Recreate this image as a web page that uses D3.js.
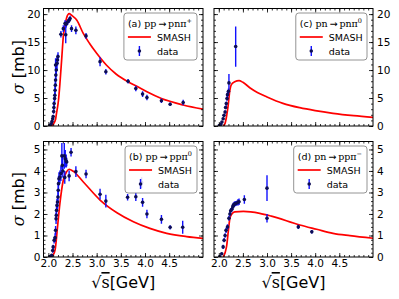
<!DOCTYPE html>
<html>
<head>
<meta charset="utf-8">
<script src="https://cdn.jsdelivr.net/npm/d3@7"></script>
<style>
body { margin: 0; background: #fff; }
svg text { font-family: "DejaVu Sans", sans-serif; fill: #000; }
</style>
</head>
<body>
<svg id="chart" width="399" height="299"></svg>
<script>
// shared axis settings
var xDomain = [1.9, 5.2];
var xTicks = [2.0, 2.5, 3.0, 3.5, 4.0, 4.5];
var yTicksTop = [0, 5, 10, 15, 20];
var yTicksBottom = [0, 1, 2, 3, 4, 5];

// (a) pp -> pn pi+
var aDataX = [2.035, 2.06, 2.076, 2.09, 2.10, 2.11, 2.115, 2.12, 2.13, 2.135, 2.14, 2.145, 2.15, 2.155, 2.165, 2.15, 2.18, 2.19, 2.20,
              2.26, 2.31, 2.345, 2.36, 2.37, 2.40, 2.43, 2.45, 2.48, 2.57, 2.78, 3.07, 3.19, 3.65, 3.81, 3.95, 4.04, 4.34, 4.52, 4.79];
var aDataY = [0.1, 0.4, 0.8, 1.3, 1.7, 2.6, 3.3, 4.0, 4.9, 5.5, 6.4, 7.3, 8.2, 9.1, 10.0, 10.9, 11.2, 11.8, 12.4,
              16.4, 17.4, 18.3, 16.3, 18.2, 18.6, 18.9, 19.2, 17.4, 17.1, 16.1, 11.5, 9.7, 8.0, 6.7, 5.7, 5.1, 4.5, 3.9, 4.2];
var aDataErr = [0.1, 0.15, 0.2, 0.3, 0.3, 0.4, 0.4, 0.5, 0.6, 0.7, 0.8, 0.8, 0.9, 1.0, 1.1, 1.2, 1.2, 1.0, 0.8,
                0.6, 0.6, 0.6, 1.5, 0.6, 0.5, 0.5, 0.5, 0.6, 0.7, 0.5, 0.8, 0.5, 0.4, 0.5, 0.5, 0.5, 0.4, 0.3, 0.5];
var aCurveX = [2.05, 2.1, 2.15, 2.17, 2.21, 2.24, 2.28, 2.31, 2.345, 2.38, 2.43, 2.48, 2.59, 2.72, 2.85, 3.0, 3.2, 3.4, 3.65, 3.83, 4.04, 4.34, 4.79, 5.2];
var aCurveY = [0, 0.3, 1.2, 2.3, 4.6, 7.6, 12.4, 16.0, 18.0, 19.4, 20.1, 19.8, 18.9, 16.6, 14.8, 13.0, 10.9, 9.3, 7.9, 7.1, 6.1, 4.9, 3.75, 3.0];

// (b) pp -> pp pi0
var bDataX = [2.035, 2.07, 2.09, 2.10, 2.12, 2.14, 2.15, 2.16, 2.165, 2.17, 2.18, 2.19, 2.20, 2.205, 2.21, 2.22, 2.24, 2.26,
              2.28, 2.29, 2.30, 2.33, 2.34, 2.35, 2.37, 2.38, 2.43, 2.47, 2.57, 2.78, 3.07, 3.19, 3.64, 3.81, 3.93, 3.95, 4.04, 4.34, 4.52, 4.78];
var bDataY = [0.02, 0.08, 0.3, 0.47, 0.78, 0.9, 1.24, 1.78, 1.94, 2.17, 2.4, 2.56, 2.79, 3.1, 3.41, 3.64, 3.72, 3.88,
              4.7, 4.26, 4.0, 4.7, 3.7, 4.57, 4.46, 4.42, 3.77, 4.87, 3.97, 3.86, 2.92, 2.6, 2.78, 2.8, 3.46, 2.54, 2.0, 1.75, 1.38, 1.38];
var bDataErr = [0.02, 0.05, 0.1, 0.1, 0.15, 0.2, 0.2, 0.25, 0.25, 0.3, 0.3, 0.3, 0.3, 0.3, 0.35, 0.3, 0.3, 0.35,
                0.6, 0.4, 0.3, 0.6, 0.3, 0.4, 0.3, 0.2, 0.25, 0.2, 0.25, 0.2, 0.25, 0.3, 0.15, 0.2, 0.25, 0.2, 0.2, 0.2, 0.1, 0.3];
var bCurveX = [2.04, 2.1, 2.14, 2.19, 2.24, 2.31, 2.38, 2.43, 2.52, 2.72, 3.07, 3.42, 3.76, 4.1, 4.45, 4.86, 5.2];
var bCurveY = [0, 0.1, 0.33, 1.4, 2.5, 3.58, 3.97, 4.08, 3.98, 3.5, 2.65, 2.06, 1.64, 1.33, 1.1, 0.95, 0.87];

// (c) pn -> pn pi0
var cDataX = [2.01, 2.04, 2.065, 2.09, 2.107, 2.13, 2.14, 2.155, 2.17, 2.18, 2.20, 2.21, 2.35];
var cDataY = [0.1, 0.3, 0.7, 1.3, 1.9, 2.5, 3.3, 4.0, 4.9, 5.6, 6.2, 7.7, 14.2];
var cDataErr = [0.05, 0.1, 0.15, 0.2, 0.25, 0.3, 0.3, 0.4, 0.4, 0.5, 0.5, 1.6, 3.6];
var cCurveX = [2.09, 2.13, 2.16, 2.19, 2.23, 2.26, 2.33, 2.42, 2.5, 2.65, 2.8, 3.0, 3.33, 3.68, 4.0, 4.37, 4.8, 5.2];
var cCurveY = [0, 0.5, 1.7, 3.4, 6.4, 7.4, 7.9, 8.1, 7.8, 6.8, 6.0, 5.2, 4.05, 3.27, 2.75, 2.27, 1.85, 1.55];

// (d) pn -> pp pi-
var dDataX = [2.02, 2.06, 2.09, 2.11, 2.13, 2.15, 2.18, 2.21, 2.23, 2.245, 2.27, 2.29, 2.30, 2.32, 2.34, 2.37, 2.40, 2.42, 2.53, 3.0, 3.0, 3.65, 3.93];
var dDataY = [0.02, 0.15, 0.47, 0.78, 1.0, 1.24, 1.4, 1.8, 2.0, 2.15, 2.22, 2.33, 2.4, 2.45, 2.48, 2.5, 2.55, 2.57, 2.67, 3.2, 1.8, 1.4, 1.17];
var dDataErr = [0.02, 0.05, 0.1, 0.1, 0.1, 0.12, 0.12, 0.12, 0.12, 0.12, 0.12, 0.12, 0.12, 0.12, 0.12, 0.12, 0.15, 0.15, 0.2, 0.6, 0.2, 0.1, 0.08];
var dCurveX = [2.09, 2.16, 2.20, 2.23, 2.27, 2.33, 2.51, 2.85, 3.09, 3.68, 4.03, 4.37, 4.72, 5.2];
var dCurveY = [0, 0.48, 1.26, 1.8, 2.0, 2.1, 2.12, 2.03, 1.9, 1.49, 1.29, 1.1, 0.99, 0.87];

var svg = d3.select("#chart");
var dataColor = "#0d0d55";
var errColor = "#1010ff";
var curveColor = "#ff0000";

var panels = [
  {key: "a", label: "(a) ", react: ["pp", "pn\u03c0", "+"], left: 43.5, top: 8.5, width: 159.5, height: 117.5,
   yDomain: [0, 21], yTicks: yTicksTop, yMinorStep: 1, xLabels: false, yRight: false,
   dx: aDataX, dy: aDataY, de: aDataErr, cx: aCurveX, cy: aCurveY},
  {key: "c", label: "(c) ", react: ["pn", "pn\u03c0", "0"], left: 214, top: 8.5, width: 159, height: 117.5,
   yDomain: [0, 21], yTicks: yTicksTop, yMinorStep: 1, xLabels: false, yRight: true,
   dx: cDataX, dy: cDataY, de: cDataErr, cx: cCurveX, cy: cCurveY},
  {key: "b", label: "(b) ", react: ["pp", "pp\u03c0", "0"], left: 43.5, top: 141.5, width: 159.5, height: 115.5,
   yDomain: [0, 5.37], yTicks: yTicksBottom, yMinorStep: 0.2, xLabels: true, yRight: false,
   dx: bDataX, dy: bDataY, de: bDataErr, cx: bCurveX, cy: bCurveY},
  {key: "d", label: "(d) ", react: ["pn", "pp\u03c0", "\u2212"], left: 214, top: 141.5, width: 159, height: 115.5,
   yDomain: [0, 5.37], yTicks: yTicksBottom, yMinorStep: 0.2, xLabels: true, yRight: true,
   dx: dDataX, dy: dDataY, de: dDataErr, cx: dCurveX, cy: dCurveY}
];

panels.forEach(drawPanel);

function drawPanel(p) {
  var g = svg.append("g").attr("transform", "translate(" + p.left + "," + p.top + ")");
  var w = p.width, h = p.height;
  var x = d3.scaleLinear().domain(xDomain).range([0, w]);
  var y = d3.scaleLinear().domain(p.yDomain).range([h, 0]);

  g.append("clipPath").attr("id", "clip-" + p.key)
    .append("rect").attr("width", w).attr("height", h);
  var plot = g.append("g").attr("clip-path", "url(#clip-" + p.key + ")");

  // SMASH curve
  var pts = p.cx.map(function(v, i) { return [v, p.cy[i]]; });
  var line = d3.line().x(function(d) { return x(d[0]); }).y(function(d) { return y(d[1]); })
    .curve(d3.curveMonotoneX);
  plot.append("path").datum(pts).attr("d", line)
    .attr("fill", "none").attr("stroke", curveColor).attr("stroke-width", 1.7);

  // data with error bars
  var data = p.dx.map(function(v, i) { return {x: v, y: p.dy[i], e: p.de[i]}; });
  plot.selectAll(".err").data(data).enter().append("line")
    .attr("x1", function(d) { return x(d.x); }).attr("x2", function(d) { return x(d.x); })
    .attr("y1", function(d) { return y(d.y - d.e); }).attr("y2", function(d) { return y(d.y + d.e); })
    .attr("stroke", errColor).attr("stroke-width", 1.4);
  plot.selectAll(".pt").data(data).enter().append("circle")
    .attr("cx", function(d) { return x(d.x); }).attr("cy", function(d) { return y(d.y); })
    .attr("r", 1.8).attr("fill", dataColor);

  // axes, ticks pointing inward
  var xMinor = d3.range(2.0, 5.2, 0.1);
  var yMinor = d3.range(p.yDomain[0], p.yDomain[1], p.yMinorStep);
  var fmtX = p.xLabels ? d3.format(".1f") : function() { return ""; };

  g.append("g").attr("transform", "translate(0," + h + ")")
    .call(d3.axisBottom(x).tickValues(xTicks).tickSize(-4).tickPadding(3).tickFormat(fmtX));
  g.append("g").attr("transform", "translate(0," + h + ")")
    .call(d3.axisBottom(x).tickValues(xMinor).tickSize(-2).tickFormat(""));
  g.append("g").call(d3.axisTop(x).tickValues(xTicks).tickSize(-4).tickFormat(""));
  g.append("g").call(d3.axisTop(x).tickValues(xMinor).tickSize(-2).tickFormat(""));

  var fmtY = d3.format("d");
  g.append("g")
    .call(d3.axisLeft(y).tickValues(p.yTicks).tickSize(-4).tickPadding(3)
      .tickFormat(p.yRight ? function() { return ""; } : fmtY));
  g.append("g").call(d3.axisLeft(y).tickValues(yMinor).tickSize(-2).tickFormat(""));
  g.append("g").attr("transform", "translate(" + w + ",0)")
    .call(d3.axisRight(y).tickValues(p.yTicks).tickSize(-4).tickPadding(4)
      .tickFormat(p.yRight ? fmtY : function() { return ""; }));
  g.append("g").attr("transform", "translate(" + w + ",0)")
    .call(d3.axisRight(y).tickValues(yMinor).tickSize(-2).tickFormat(""));

  g.selectAll(".domain").remove();
  g.selectAll(".tick line").attr("stroke", "#000").attr("stroke-width", 0.8);
  g.selectAll(".tick text").attr("font-size", 10.5).attr("font-family", "DejaVu Sans");

  g.append("rect").attr("width", w).attr("height", h)
    .attr("fill", "none").attr("stroke", "#000").attr("stroke-width", 1);

  // legend
  var lg = g.append("g");
  var box = lg.append("rect").attr("rx", 3).attr("ry", 3)
    .attr("fill", "#fff").attr("fill-opacity", 0.85).attr("stroke", "#888").attr("stroke-width", 0.9);
  var title = lg.append("text").attr("font-size", 9.5).attr("y", 0);
  title.append("tspan").text(p.label);
  title.append("tspan").attr("font-family", "DejaVu Serif").text(p.react[0] + "\u2009");
  title.append("tspan").attr("font-family", "DejaVu Sans").text("\u2192");
  title.append("tspan").attr("font-family", "DejaVu Serif").text("\u2009" + p.react[1]);
  title.append("tspan").attr("font-family", "DejaVu Serif").attr("font-size", 6.5)
    .attr("dy", -4).text(p.react[2]);
  var tw = title.node().getComputedTextLength();
  var bw = tw + 9, bh = 47;
  var bx = w - 6 - bw, by = 4.5;
  box.attr("x", bx).attr("y", by).attr("width", bw).attr("height", bh);
  title.attr("x", bx + 4).attr("y", by + 14);
  title.selectAll("tspan").filter(function(d, i) { return i === 0; }).attr("x", bx + 4);

  lg.append("line").attr("x1", bx + 4).attr("x2", bx + 27)
    .attr("y1", by + 24).attr("y2", by + 24).attr("stroke", curveColor).attr("stroke-width", 1.7);
  lg.append("text").attr("x", bx + 33).attr("y", by + 27.5).attr("font-size", 9.5).text("SMASH");
  lg.append("line").attr("x1", bx + 15.5).attr("x2", bx + 15.5)
    .attr("y1", by + 33).attr("y2", by + 43).attr("stroke", errColor).attr("stroke-width", 1.4);
  lg.append("circle").attr("cx", bx + 15.5).attr("cy", by + 38).attr("r", 1.8).attr("fill", dataColor);
  lg.append("text").attr("x", bx + 33).attr("y", by + 41.5).attr("font-size", 9.5).text("data");

  // axis titles
  if (!p.yRight) {
    var yl = svg.append("text").attr("text-anchor", "middle").attr("font-size", 16)
      .attr("transform", "translate(" + (p.left - 20) + "," + (p.top + h / 2) + ") rotate(-90)");
    yl.append("tspan").attr("font-family", "DejaVu Serif").attr("font-style", "italic").text("\u03c3");
    yl.append("tspan").text(" [mb]");
  }
  if (p.xLabels) {
    var xl = svg.append("text").attr("text-anchor", "middle").attr("font-size", 16)
      .attr("x", p.left + w / 2).attr("y", p.top + h + 31);
    xl.append("tspan").attr("font-family", "DejaVu Serif").text("\u221a");
    xl.append("tspan").attr("font-family", "DejaVu Serif").attr("text-decoration", "overline").text("s");
    xl.append("tspan").text("[GeV]");
  }
}
</script>
</body>
</html>
